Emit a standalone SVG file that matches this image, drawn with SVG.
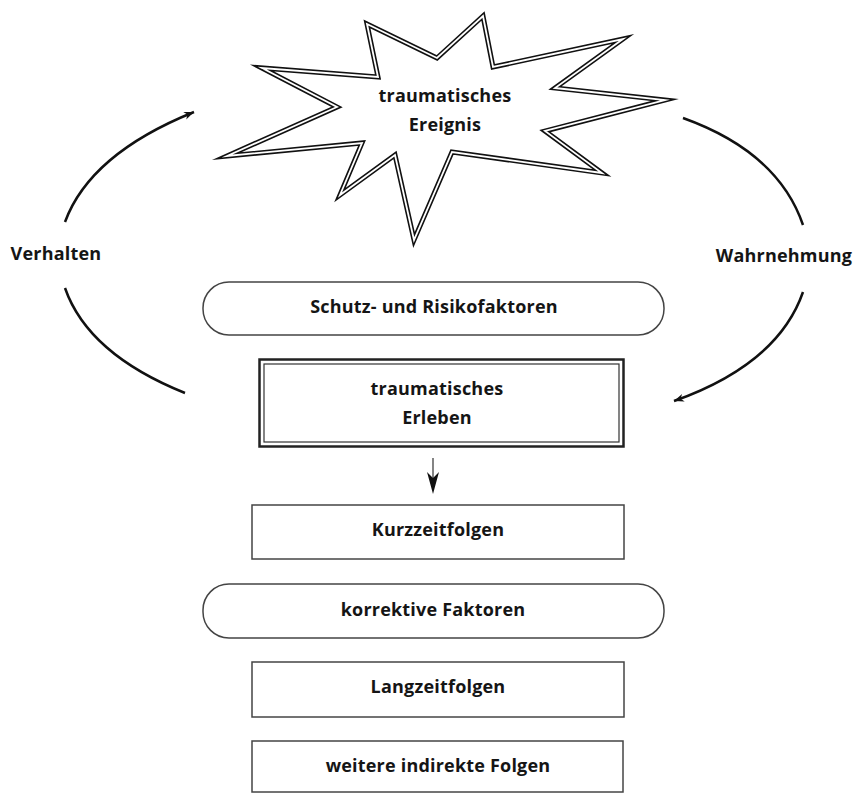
<svg xmlns="http://www.w3.org/2000/svg" width="857" height="793" viewBox="0 0 857 793">
<defs>
<style>
.t{font-family:"Open Sans","DejaVu Sans",sans-serif;font-weight:700;font-size:18px;letter-spacing:0.2px;fill:#151515;text-anchor:middle}
.box{fill:#fff;stroke:#444;stroke-width:1.5}
.arc{fill:none;stroke:#111;stroke-width:2.5}
</style>
<marker id="ah" markerWidth="12" markerHeight="10" refX="10" refY="5" orient="auto" markerUnits="userSpaceOnUse">
<path d="M0,1 L10,5 L0,9 L3,5 Z" fill="#111"/>
</marker>
</defs>
<rect width="857" height="793" fill="#fff"/>
<g id="ereignis">
<path id="star" d="M367,24 L437,58 L483,16 L493,67 L623,39 L555,88 L665,100 L545,131 L602,173 L452,152 L414,240 L395,155 L340,195 L362,143 L227,156 L337,107 L262,68 L378,77 Z" fill="#fff" stroke="#111" stroke-width="5" stroke-linejoin="miter" stroke-miterlimit="20"/>
<path d="M367,24 L437,58 L483,16 L493,67 L623,39 L555,88 L665,100 L545,131 L602,173 L452,152 L414,240 L395,155 L340,195 L362,143 L227,156 L337,107 L262,68 L378,77 Z" fill="none" stroke="#fff" stroke-width="1.8" stroke-linejoin="miter" stroke-miterlimit="20"/>
<text class="t" x="445" y="102">traumatisches</text>
<text class="t" x="445" y="131">Ereignis</text>
</g>
<g id="verhalten"><text class="t" x="56" y="260">Verhalten</text></g>
<g id="wahrnehmung"><text class="t" x="784" y="262">Wahrnehmung</text></g>
<g id="schutz">
<rect class="box" x="203" y="282" width="461" height="53" rx="26" ry="26"/>
<text class="t" x="434" y="313">Schutz- und Risikofaktoren</text>
</g>
<g id="erleben">
<rect x="259.5" y="359.5" width="364" height="87" fill="#fff" stroke="#222" stroke-width="2.5"/>
<rect x="264" y="364" width="355" height="78" fill="none" stroke="#333" stroke-width="1.2"/>
<text class="t" x="437" y="395">traumatisches</text>
<text class="t" x="437" y="424">Erleben</text>
</g>
<g id="kurzzeit">
<rect class="box" x="252" y="505" width="372" height="54"/>
<text class="t" x="438" y="536">Kurzzeitfolgen</text>
</g>
<g id="korrektiv">
<rect class="box" x="203" y="584" width="461" height="54" rx="26" ry="26"/>
<text class="t" x="433" y="616">korrektive Faktoren</text>
</g>
<g id="langzeit">
<rect class="box" x="252" y="662" width="372" height="55"/>
<text class="t" x="438" y="693">Langzeitfolgen</text>
</g>
<g id="weitere">
<rect class="box" x="252" y="741" width="371" height="51"/>
<text class="t" x="438" y="772">weitere indirekte Folgen</text>
</g>
<g id="connectors">
<path class="arc" d="M65,222 Q90,154 194,112" marker-end="url(#ah)"/>
<path class="arc" d="M65,288 Q88,354 185,393"/>
<path class="arc" d="M683,118 Q778,152 803,225"/>
<path class="arc" d="M803,292 Q778,364 674,401" marker-end="url(#ah)"/>
<line x1="433" y1="458" x2="433" y2="480" stroke="#666" stroke-width="1.6"/>
<path d="M433,494 L427,472 L433,478 L439,472 Z" fill="#111"/>
</g>
</svg>
